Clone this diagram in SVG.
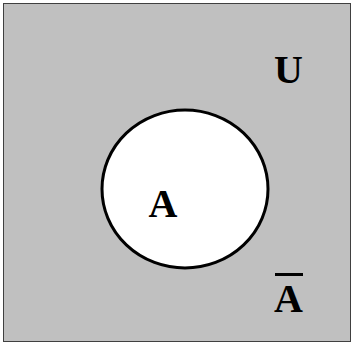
<svg xmlns="http://www.w3.org/2000/svg" width="353" height="344" viewBox="0 0 353 344">
<style>
.lbl{font-family:"Liberation Serif","Times New Roman",serif;font-weight:bold;font-size:40px;fill:#000;text-anchor:middle}
</style>
<rect width="353" height="344" fill="#fff"/>
<g id="universe">
<rect x="3.5" y="3.5" width="347" height="338" fill="#c0c0c0" stroke="#404040" stroke-width="1"/>
<text class="lbl" x="288.5" y="83">U</text>
</g>
<g id="setA">
<ellipse cx="185" cy="189" rx="83" ry="79" fill="#fff" stroke="#000" stroke-width="3"/>
<text class="lbl" x="163" y="217">A</text>
</g>
<g id="complement">
<line x1="275" y1="274.5" x2="303" y2="274.5" stroke="#000" stroke-width="3"/>
<text class="lbl" x="288.5" y="312">A</text>
</g>
<g id="connectors"/>
</svg>
